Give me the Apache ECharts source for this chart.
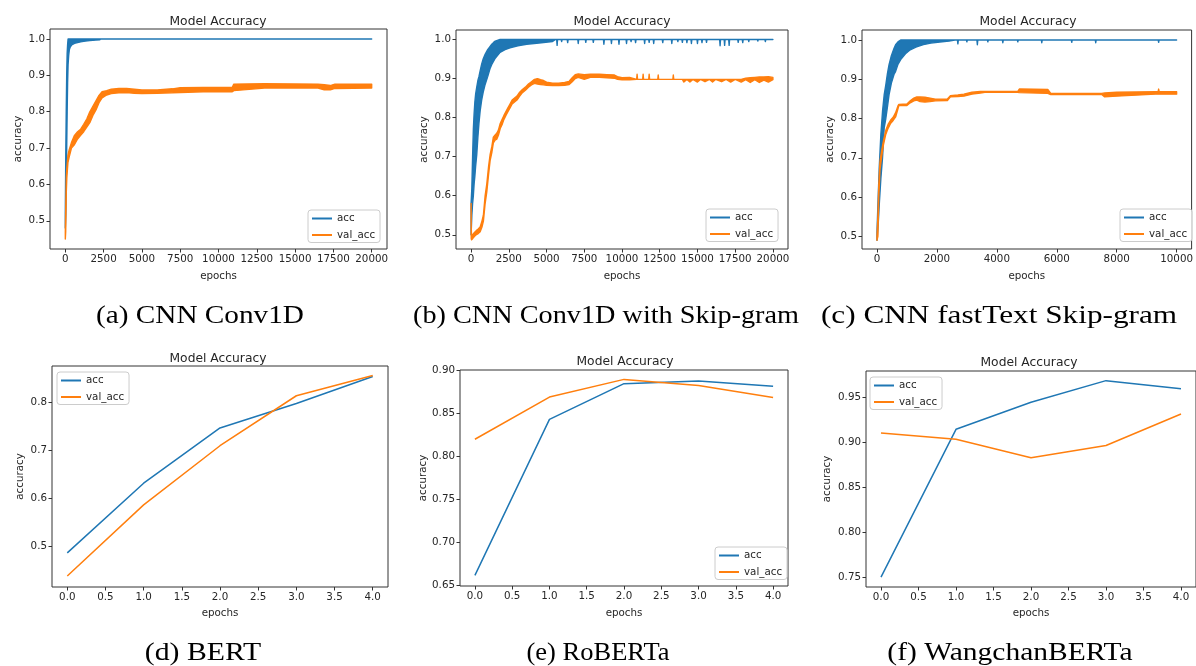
<!DOCTYPE html>
<html>
<head>
<meta charset="utf-8">
<script src="https://cdn.jsdelivr.net/npm/echarts@6/dist/echarts.min.js"></script>
<style>html,body{margin:0;padding:0;background:#fff;}#c{width:1196px;height:666px;}</style>
</head>
<body>
<div id="c"></div>
<script>
// ---------- data ----------
const TITLE = 'Model Accuracy';
const SERIES_NAMES = ['acc', 'val_acc'];
const CAPTIONS = ['(a) CNN Conv1D', '(b) CNN Conv1D with Skip-gram', '(c) CNN fastText Skip-gram',
                  '(d) BERT', '(e) RoBERTa', '(f) WangchanBERTa'];

const X_TICKS_20K = [0, 2500, 5000, 7500, 10000, 12500, 15000, 17500, 20000];
const X_TICKS_10K = [0, 2000, 4000, 6000, 8000, 10000];
const X_TICKS_EP = [0, 0.5, 1, 1.5, 2, 2.5, 3, 3.5, 4];
const Y_TICKS_TOP = [0.5, 0.6, 0.7, 0.8, 0.9, 1.0];
const Y_TICKS_D = [0.5, 0.6, 0.7, 0.8];
const Y_TICKS_E = [0.65, 0.70, 0.75, 0.80, 0.85, 0.90];
const Y_TICKS_F = [0.75, 0.80, 0.85, 0.90, 0.95];

// Noisy 20000/10000-epoch runs: [epoch, lowest accuracy, highest accuracy] of the jittering trace
// (a) CNN Conv1D
const A_ACC = [[0,0.48,0.52],[30,0.52,0.68],[60,0.60,0.80],[90,0.70,0.90],[120,0.80,0.96],[150,0.88,0.985],[180,0.93,1.0],[220,0.955,1.0],[260,0.97,1.0],[320,0.978,1.0],[420,0.984,1.0],[600,0.988,1.0],[800,0.99,1.0],[1000,0.992,1.0],[1300,0.994,1.0],[1600,0.996,1.0],[2000,0.997,1.0],[2250,0.998,1.0],[2300,1.0,1.0],[20000,1.0,1.0]];
const A_VAL = [[0,0.45,0.47],[25,0.47,0.53],[65,0.58,0.62],[100,0.62,0.645],[170,0.66,0.68],[250,0.675,0.695],[400,0.70,0.715],[600,0.71,0.735],[800,0.725,0.745],[1000,0.735,0.752],[1200,0.745,0.765],[1400,0.758,0.78],[1600,0.77,0.80],[1800,0.79,0.815],[2000,0.805,0.83],[2200,0.825,0.845],[2400,0.838,0.855],[2700,0.846,0.858],[3000,0.85,0.862],[3500,0.852,0.864],[4000,0.853,0.864],[4500,0.851,0.862],[5000,0.85,0.86],[6000,0.851,0.86],[7000,0.852,0.863],[7500,0.853,0.866],[9000,0.855,0.867],[10900,0.855,0.867],[11000,0.858,0.876],[13000,0.865,0.877],[16500,0.865,0.876],[16900,0.86,0.874],[17300,0.86,0.872],[17600,0.864,0.876],[20000,0.865,0.876]];
// (b) CNN Conv1D with Skip-gram
const B_ACC = [[0,0.50,0.58],[50,0.55,0.62],[100,0.58,0.70],[150,0.60,0.77],[200,0.63,0.81],[250,0.65,0.84],[300,0.675,0.86],[375,0.705,0.878],[450,0.75,0.895],[520,0.785,0.905],[600,0.817,0.92],[700,0.845,0.937],[800,0.865,0.95],[930,0.885,0.962],[1100,0.905,0.974],[1250,0.925,0.982],[1370,0.936,0.988],[1480,0.944,0.992],[1600,0.952,0.996],[1920,0.967,1.0],[2250,0.974,1.0],[2580,0.979,1.0],[3100,0.984,1.0],[3680,0.988,1.0],[4500,0.991,1.0],[5400,0.995,1.0],[5600,1.0,1.0],[5670,1.0,1.0],[5700,0.985,1.0],[5730,1.0,1.0],[5970,1.0,1.0],[6000,0.995,1.0],[6030,1.0,1.0],[6370,1.0,1.0],[6400,0.992,1.0],[6430,1.0,1.0],[7070,1.0,1.0],[7100,0.99,1.0],[7130,1.0,1.0],[7570,1.0,1.0],[7600,0.993,1.0],[7630,1.0,1.0],[8070,1.0,1.0],[8100,0.993,1.0],[8130,1.0,1.0],[8770,1.0,1.0],[8800,0.988,1.0],[8830,1.0,1.0],[9270,1.0,1.0],[9300,0.99,1.0],[9330,1.0,1.0],[9770,1.0,1.0],[9800,0.988,1.0],[9830,1.0,1.0],[10270,1.0,1.0],[10300,0.99,1.0],[10330,1.0,1.0],[10570,1.0,1.0],[10600,0.995,1.0],[10630,1.0,1.0],[10870,1.0,1.0],[10900,0.992,1.0],[10930,1.0,1.0],[11470,1.0,1.0],[11500,0.99,1.0],[11530,1.0,1.0],[11770,1.0,1.0],[11800,0.993,1.0],[11830,1.0,1.0],[12070,1.0,1.0],[12100,0.99,1.0],[12130,1.0,1.0],[12670,1.0,1.0],[12700,0.992,1.0],[12730,1.0,1.0],[13270,1.0,1.0],[13300,0.99,1.0],[13330,1.0,1.0],[13670,1.0,1.0],[13700,0.995,1.0],[13730,1.0,1.0],[13970,1.0,1.0],[14000,0.993,1.0],[14030,1.0,1.0],[14270,1.0,1.0],[14300,0.992,1.0],[14330,1.0,1.0],[14570,1.0,1.0],[14600,0.99,1.0],[14630,1.0,1.0],[14970,1.0,1.0],[15000,0.99,1.0],[15030,1.0,1.0],[15270,1.0,1.0],[15300,0.992,1.0],[15330,1.0,1.0],[15570,1.0,1.0],[15600,0.993,1.0],[15630,1.0,1.0],[16470,1.0,1.0],[16500,0.984,1.0],[16530,1.0,1.0],[16770,1.0,1.0],[16800,0.985,1.0],[16830,1.0,1.0],[17070,1.0,1.0],[17100,0.985,1.0],[17130,1.0,1.0],[17670,1.0,1.0],[17700,0.993,1.0],[17730,1.0,1.0],[17970,1.0,1.0],[18000,0.992,1.0],[18030,1.0,1.0],[18370,1.0,1.0],[18400,0.995,1.0],[18430,1.0,1.0],[18970,1.0,1.0],[19000,0.996,1.0],[19030,1.0,1.0],[19470,1.0,1.0],[19500,0.995,1.0],[19530,1.0,1.0],[20000,1.0,1.0]];
const B_VAL = [[0,0.55,0.58],[10,0.49,0.52],[30,0.487,0.495],[100,0.49,0.50],[200,0.495,0.505],[330,0.50,0.51],[470,0.503,0.515],[600,0.508,0.52],[720,0.52,0.535],[815,0.535,0.55],[930,0.58,0.60],[1040,0.61,0.63],[1160,0.655,0.675],[1260,0.69,0.705],[1380,0.712,0.727],[1475,0.735,0.75],[1580,0.742,0.755],[1700,0.745,0.76],[1810,0.755,0.768],[1930,0.772,0.785],[2050,0.782,0.795],[2170,0.795,0.805],[2300,0.805,0.815],[2440,0.815,0.825],[2580,0.825,0.835],[2720,0.835,0.845],[2880,0.84,0.85],[3040,0.845,0.855],[3220,0.855,0.865],[3400,0.864,0.872],[3600,0.87,0.878],[3800,0.878,0.886],[4000,0.884,0.892],[4200,0.888,0.898],[4400,0.886,0.9],[4600,0.885,0.897],[4800,0.884,0.895],[5000,0.883,0.891],[5400,0.882,0.888],[5800,0.882,0.888],[6200,0.883,0.89],[6500,0.885,0.893],[6700,0.892,0.902],[6900,0.9,0.91],[7100,0.903,0.912],[7500,0.898,0.91],[7900,0.903,0.911],[8500,0.903,0.911],[9000,0.902,0.91],[9500,0.901,0.909],[9700,0.898,0.905],[10000,0.897,0.902],[10500,0.897,0.903],[10970,0.898,0.898],[11000,0.898,0.911],[11030,0.898,0.898],[11370,0.898,0.898],[11400,0.898,0.911],[11430,0.898,0.898],[11770,0.898,0.898],[11800,0.898,0.911],[11830,0.898,0.898],[12370,0.898,0.898],[12400,0.898,0.909],[12430,0.898,0.898],[13370,0.898,0.898],[13400,0.898,0.909],[13430,0.898,0.898],[14000,0.898,0.898],[14100,0.891,0.898],[14300,0.898,0.898],[14500,0.891,0.898],[14700,0.898,0.898],[15000,0.891,0.898],[15200,0.898,0.898],[15500,0.892,0.898],[15800,0.898,0.898],[16000,0.891,0.898],[16200,0.898,0.898],[16600,0.892,0.898],[16900,0.898,0.898],[17200,0.891,0.898],[17500,0.898,0.898],[17900,0.891,0.898],[18200,0.897,0.901],[18500,0.89,0.902],[18800,0.897,0.903],[19100,0.89,0.904],[19400,0.896,0.904],[19700,0.891,0.905],[20000,0.897,0.903]];
// (c) CNN fastText Skip-gram
const C_ACC = [[0,0.49,0.51],[40,0.53,0.60],[75,0.58,0.674],[130,0.648,0.76],[185,0.70,0.818],[240,0.776,0.86],[295,0.80,0.886],[350,0.83,0.915],[403,0.861,0.937],[480,0.89,0.96],[567,0.912,0.978],[622,0.92,0.988],[700,0.938,0.995],[790,0.95,1.0],[950,0.965,1.0],[1110,0.975,1.0],[1300,0.982,1.0],[1550,0.988,1.0],[1800,0.992,1.0],[2100,0.995,1.0],[2400,0.997,1.0],[2600,1.0,1.0],[2685,1.0,1.0],[2700,0.99,1.0],[2715,1.0,1.0],[2985,1.0,1.0],[3000,0.995,1.0],[3015,1.0,1.0],[3335,1.0,1.0],[3350,0.988,1.0],[3365,1.0,1.0],[3685,1.0,1.0],[3700,0.995,1.0],[3715,1.0,1.0],[4185,1.0,1.0],[4200,0.993,1.0],[4215,1.0,1.0],[4685,1.0,1.0],[4700,0.995,1.0],[4715,1.0,1.0],[5485,1.0,1.0],[5500,0.993,1.0],[5515,1.0,1.0],[6485,1.0,1.0],[6500,0.994,1.0],[6515,1.0,1.0],[7285,1.0,1.0],[7300,0.993,1.0],[7315,1.0,1.0],[9385,1.0,1.0],[9400,0.994,1.0],[9415,1.0,1.0],[10000,1.0,1.0]];
const C_VAL = [[0,0.49,0.50],[30,0.50,0.55],[60,0.60,0.63],[100,0.67,0.69],[160,0.705,0.72],[220,0.735,0.745],[295,0.76,0.77],[370,0.775,0.785],[458,0.788,0.796],[540,0.795,0.803],[622,0.804,0.815],[700,0.825,0.832],[730,0.833,0.836],[1000,0.833,0.837],[1110,0.84,0.845],[1230,0.845,0.852],[1330,0.847,0.855],[1440,0.843,0.855],[1600,0.842,0.854],[1770,0.843,0.852],[1950,0.845,0.849],[2350,0.846,0.85],[2450,0.855,0.858],[2700,0.856,0.86],[2900,0.857,0.862],[3170,0.862,0.867],[3450,0.865,0.869],[3600,0.867,0.869],[4700,0.867,0.869],[4750,0.866,0.875],[5700,0.864,0.874],[5800,0.861,0.864],[7500,0.861,0.864],[7600,0.855,0.865],[8000,0.857,0.867],[9300,0.862,0.868],[9380,0.862,0.868],[9400,0.862,0.875],[9420,0.862,0.868],[10000,0.862,0.868]];

// (d)-(f) transformer models, 5 epochs
const EPOCHS = [0, 1, 2, 3, 4];
const D_ACC = [0.487, 0.632, 0.747, 0.798, 0.854];
const D_VAL = [0.439, 0.587, 0.710, 0.814, 0.856];
const E_ACC = [0.662, 0.843, 0.8845, 0.8875, 0.8815];
const E_VAL = [0.820, 0.869, 0.8895, 0.8825, 0.8685];
const F_ACC = [0.750, 0.914, 0.944, 0.968, 0.959];
const F_VAL = [0.910, 0.903, 0.8825, 0.896, 0.931];

// ---------- layout ----------
const BLUE = '#1f77b4', ORANGE = '#ff7f0e';
const FONT = 'DejaVu Sans';
const TXT = '#262626';
const FS = 10.3;

const panels = [
  {grid:{left:50,top:29,width:337,height:220}, x:[-1000,21000], y:[0.4225,1.0275], xt:X_TICKS_20K, yt:Y_TICKS_TOP, xd:0, yd:1,
   band:true, acc:A_ACC, val:A_VAL, title:[218,16], legend:[308,210], yGap:27, xGap:22, cap:[200,316,1.17]},
  {grid:{left:456,top:30,width:332,height:219}, x:[-1000,21000], y:[0.4636,1.0244], xt:X_TICKS_20K, yt:Y_TICKS_TOP, xd:0, yd:1,
   band:true, acc:B_ACC, val:B_VAL, title:[622,16], legend:[706,209], yGap:27, xGap:22, cap:[606,316,1.13]},
  {grid:{left:862,top:30,width:336,height:219}, x:[-500,10500], y:[0.4677,1.0254], xt:X_TICKS_10K, yt:Y_TICKS_TOP, xd:0, yd:1,
   band:true, acc:C_ACC, val:C_VAL, title:[1028,16], legend:[1120,209], yGap:27, xGap:22, cap:[999,316,1.25]},
  {grid:{left:52,top:366,width:336,height:221}, x:[-0.2,4.2], y:[0.4161,0.8759], xt:X_TICKS_EP, yt:Y_TICKS_D, xd:1, yd:1,
   band:false, acc:EPOCHS.map((e,i)=>[e,D_ACC[i]]), val:EPOCHS.map((e,i)=>[e,D_VAL[i]]), title:[218,353], legend:[57,372], yGap:27, xGap:21, cap:[203,653,1.19]},
  {grid:{left:460,top:370,width:328,height:216}, x:[-0.2,4.2], y:[0.6496,0.9004], xt:X_TICKS_EP, yt:Y_TICKS_E, xd:1, yd:2,
   band:false, acc:EPOCHS.map((e,i)=>[e,E_ACC[i]]), val:EPOCHS.map((e,i)=>[e,E_VAL[i]]), title:[625,356], legend:[715,547], yGap:32, xGap:22, cap:[598,653,1.06]},
  {grid:{left:866,top:371,width:331,height:216}, x:[-0.2,4.2], y:[0.7391,0.9787], xt:X_TICKS_EP, yt:Y_TICKS_F, xd:1, yd:2,
   band:false, acc:EPOCHS.map((e,i)=>[e,F_ACC[i]]), val:EPOCHS.map((e,i)=>[e,F_VAL[i]]), title:[1029,356.5], legend:[870,377], yGap:34, xGap:21, cap:[1010,653,1.18]}
];

// draws a jittering trace as the filled region between its lowest and highest values
function bandRenderer(env, color) {
  return function (params, api) {
    if (params.dataIndex !== 0) return null;
    const upper = env.map(d => api.coord([d[0], d[2]]));
    const lower = env.map(d => api.coord([d[0], d[1]])).reverse();
    return {type:'polygon', shape:{points: upper.concat(lower)},
      style:{fill:color, stroke:color, lineWidth:1.4, lineJoin:'round'}};
  };
}

const option = {
  animation: false,
  backgroundColor: '#fff',
  title: [], grid: [], xAxis: [], yAxis: [], series: [], legend: [], graphic: []
};

panels.forEach((p, i) => {
  option.grid.push(Object.assign({show:true, borderColor:'#333', borderWidth:1, backgroundColor:'transparent'}, p.grid));
  option.title.push({text: TITLE, left: p.title[0], top: p.title[1], textAlign:'center', padding:0,
    textStyle:{fontFamily:FONT, fontSize:12.3, fontWeight:'normal', color:TXT}});
  option.xAxis.push({type:'value', gridIndex:i, min:p.x[0], max:p.x[1], name:'epochs', nameLocation:'middle', nameGap:p.xGap,
    nameTextStyle:{fontFamily:FONT, fontSize:FS, color:TXT},
    axisLine:{show:false, onZero:false}, splitLine:{show:false},
    axisTick:{show:true, length:3.5, lineStyle:{color:'#333'}, customValues:p.xt},
    axisLabel:{fontFamily:FONT, fontSize:FS, color:TXT, margin:5, customValues:p.xt,
      formatter: v => v.toFixed(p.xd)}});
  option.yAxis.push({type:'value', gridIndex:i, min:p.y[0], max:p.y[1], name:'accuracy', nameLocation:'middle', nameGap:p.yGap,
    nameTextStyle:{fontFamily:FONT, fontSize:FS, color:TXT},
    axisLine:{show:false, onZero:false}, splitLine:{show:false},
    axisTick:{show:true, length:3.5, lineStyle:{color:'#333'}, customValues:p.yt},
    axisLabel:{fontFamily:FONT, fontSize:FS, color:TXT, margin:5, customValues:p.yt,
      formatter: v => v.toFixed(p.yd)}});
  [[SERIES_NAMES[0], p.acc, BLUE], [SERIES_NAMES[1], p.val, ORANGE]].forEach(([name, data, color]) => {
    if (p.band) {
      option.series.push({type:'custom', name, xAxisIndex:i, yAxisIndex:i, data, color,
        encode:{x:0, y:[1,2]}, renderItem: bandRenderer(data, color), silent:true, clip:true,
        itemStyle:{color}});
    } else {
      option.series.push({type:'line', name, xAxisIndex:i, yAxisIndex:i, data, color, showSymbol:false, symbol:'none',
        emphasis:{disabled:true}, silent:true, lineStyle:{width:1.5, color}});
    }
  });
  option.legend.push({data: SERIES_NAMES, orient:'vertical', left:p.legend[0], top:p.legend[1],
    padding:[3,5,2,4], itemGap:5.5, itemWidth:20, itemHeight:2, icon:'rect', selectedMode:false,
    borderColor:'#cccccc', borderWidth:1, borderRadius:3, backgroundColor:'rgba(255,255,255,0.85)',
    textStyle:{fontFamily:FONT, fontSize:FS, color:TXT, lineHeight:11}});
  option.graphic.push({type:'text', x:p.cap[0], y:p.cap[1], scaleX:p.cap[2],
    style:{text:CAPTIONS[i], fontFamily:'Liberation Serif', fontSize:25, fill:'#000', align:'center', verticalAlign:'middle'}});
});

const chart = echarts.init(document.getElementById('c'), null, {renderer:'canvas'});
chart.setOption(option);
</script>
</body>
</html>
